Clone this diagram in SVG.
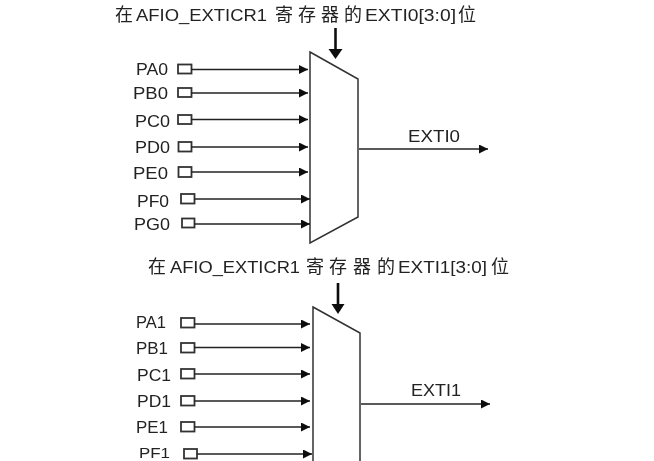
<svg xmlns="http://www.w3.org/2000/svg" width="654" height="461" viewBox="0 0 654 461">
<defs>
<marker id="a" markerUnits="userSpaceOnUse" markerWidth="10" markerHeight="10" refX="9" refY="4.500" orient="auto"><path d="M0 0L9 4.500L0 9Z" fill="#111"/></marker>
<filter id="soft" x="0" y="0" width="100%" height="100%"><feGaussianBlur stdDeviation="0.35"/></filter>
</defs>
<style>
text{font-family:"Liberation Sans","Noto Sans CJK SC",sans-serif;fill:#222;font-size:16px}
.t{font-size:16px}
.h{font-size:18px}
.p{fill:#fff;stroke:#333;stroke-width:1.5}
.b{fill:#fff;stroke:#333;stroke-width:1.8}
.c line{stroke:#222;stroke-width:1.4;marker-end:url(#a)}
.c line.s{stroke:#111;stroke-width:2.6;marker-end:none}
.c path{fill:#111}
</style>
<rect width="654" height="461" fill="#fff"/>
<g filter="url(#soft)">
<g id="title0"><text class="t" y="21"><tspan class="h" x="115">在</tspan><tspan x="136" textLength="131" lengthAdjust="spacingAndGlyphs">AFIO_EXTICR1</tspan><tspan class="h" x="275">寄</tspan><tspan class="h" x="298">存</tspan><tspan class="h" x="321">器</tspan><tspan class="h" x="344">的</tspan><tspan x="365" textLength="91" lengthAdjust="spacingAndGlyphs">EXTI0[3:0]</tspan><tspan class="h" x="458">位</tspan></text></g>
<g id="title1"><text class="t" y="273"><tspan class="h" x="148">在</tspan><tspan x="170" textLength="130" lengthAdjust="spacingAndGlyphs">AFIO_EXTICR1</tspan><tspan class="h" x="306">寄</tspan><tspan class="h" x="329">存</tspan><tspan class="h" x="353">器</tspan><tspan class="h" x="377">的</tspan><tspan x="398" textLength="89" lengthAdjust="spacingAndGlyphs">EXTI1[3:0]</tspan><tspan class="h" x="491">位</tspan></text></g>
<g id="mux0"><path class="p" d="M310 52L358 79L358 217L310 243Z"/></g>
<g id="mux1"><path class="p" d="M313 307L360 333L360 470L313 470Z"/></g>
<g id="PA0"><text x="136" y="75" textLength="32" lengthAdjust="spacingAndGlyphs">PA0</text><rect class="b" x="178" y="64.500" width="13.500" height="9"/></g>
<g id="PB0"><text x="133" y="99" textLength="35" lengthAdjust="spacingAndGlyphs">PB0</text><rect class="b" x="178" y="88" width="13.500" height="9"/></g>
<g id="PC0"><text x="135" y="127" textLength="35" lengthAdjust="spacingAndGlyphs">PC0</text><rect class="b" x="178" y="115" width="13.500" height="9"/></g>
<g id="PD0"><text x="135" y="153" textLength="35" lengthAdjust="spacingAndGlyphs">PD0</text><rect class="b" x="178.500" y="142" width="13" height="9.500"/></g>
<g id="PE0"><text x="133" y="179" textLength="35" lengthAdjust="spacingAndGlyphs">PE0</text><rect class="b" x="178.500" y="167" width="13" height="10"/></g>
<g id="PF0"><text x="137" y="207" textLength="32" lengthAdjust="spacingAndGlyphs">PF0</text><rect class="b" x="181" y="194" width="13.500" height="9.500"/></g>
<g id="PG0"><text x="134" y="230" textLength="36" lengthAdjust="spacingAndGlyphs">PG0</text><rect class="b" x="182" y="218.500" width="12.500" height="9"/></g>
<g id="PA1"><text x="136" y="328" textLength="30" lengthAdjust="spacingAndGlyphs">PA1</text><rect class="b" x="181" y="318" width="13.500" height="9.500"/></g>
<g id="PB1"><text x="136" y="354" textLength="32" lengthAdjust="spacingAndGlyphs">PB1</text><rect class="b" x="181" y="343" width="13.500" height="9.500"/></g>
<g id="PC1"><text x="137" y="381" textLength="34" lengthAdjust="spacingAndGlyphs">PC1</text><rect class="b" x="181" y="369" width="13.500" height="9.500"/></g>
<g id="PD1"><text x="137" y="407" textLength="34" lengthAdjust="spacingAndGlyphs">PD1</text><rect class="b" x="181" y="396" width="13.500" height="9.500"/></g>
<g id="PE1"><text x="136" y="433" textLength="32" lengthAdjust="spacingAndGlyphs">PE1</text><rect class="b" x="181" y="422" width="13.500" height="9.500"/></g>
<g id="PF1"><text style="font-size:14.500px" x="139" y="458" textLength="31" lengthAdjust="spacingAndGlyphs">PF1</text><rect class="b" x="184" y="449" width="13" height="9.500"/></g>
<g id="EXTI0"><text x="408" y="142" textLength="52" lengthAdjust="spacingAndGlyphs">EXTI0</text></g>
<g id="EXTI1"><text x="411" y="396" textLength="50" lengthAdjust="spacingAndGlyphs">EXTI1</text></g>
<g id="connectors" class="c">
<line x1="191" y1="69.500" x2="308" y2="69.500"/>
<line x1="191" y1="93" x2="308" y2="93"/>
<line x1="191" y1="119.500" x2="308" y2="119.500"/>
<line x1="191" y1="147" x2="308" y2="147"/>
<line x1="191" y1="172" x2="308" y2="172"/>
<line x1="194" y1="199" x2="310" y2="199"/>
<line x1="194" y1="224" x2="310" y2="224"/>
<line x1="359" y1="149" x2="488" y2="149"/>
<line x1="194" y1="324" x2="310" y2="324"/>
<line x1="194" y1="347.500" x2="310" y2="347.500"/>
<line x1="194" y1="374" x2="310" y2="374"/>
<line x1="194" y1="401" x2="310" y2="401"/>
<line x1="194" y1="427" x2="310" y2="427"/>
<line x1="197" y1="454" x2="312" y2="454"/>
<line x1="361" y1="404" x2="490" y2="404"/>
<line class="s" x1="335.500" y1="28" x2="335.500" y2="50"/>
<path d="M328.500 49L342.500 49L335.500 59Z"/>
<line class="s" x1="338" y1="283" x2="338" y2="306"/>
<path d="M331.500 304L344.500 304L338 314Z"/>
</g>
</g>
</svg>
